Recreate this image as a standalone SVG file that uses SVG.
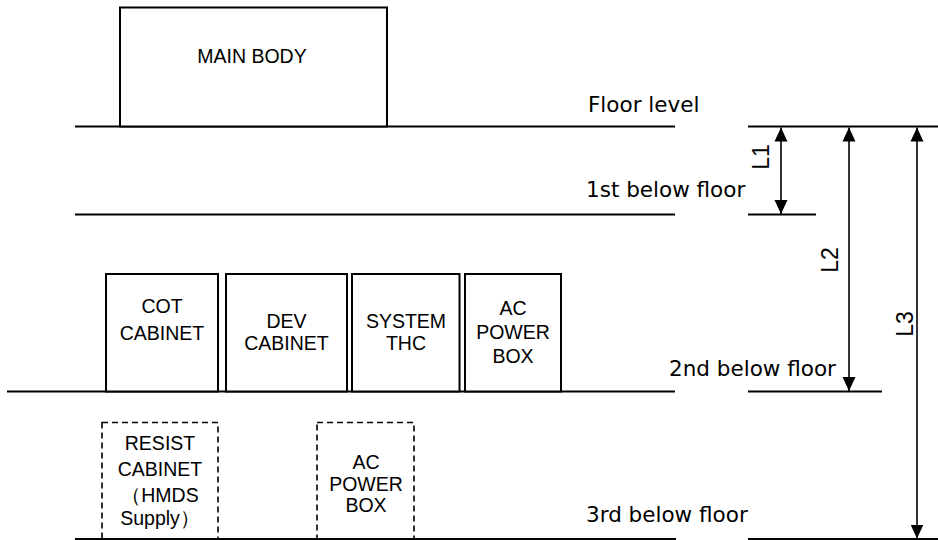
<svg xmlns="http://www.w3.org/2000/svg" width="938" height="540" viewBox="0 0 938 540">
<style>
.bx{fill:#fff;stroke:#000;stroke-width:2}
.dbx{fill:none;stroke:#000;stroke-width:1.6;stroke-dasharray:6 4}
.fl{stroke:#000;stroke-width:2}
.dim{stroke:#000;stroke-width:1.6}
.t{font-family:"Liberation Sans",Arial,sans-serif;font-size:19.5px;fill:#000;text-anchor:middle}
.lab{font-family:"DejaVu Sans","Noto Sans",sans-serif;font-size:21.5px;fill:#000}
.lt{font-family:"Liberation Sans",Arial,sans-serif;font-size:23px;fill:#000;text-anchor:middle}
</style>
<defs>
<marker id="ah" viewBox="0 0 14 14" refX="14" refY="7" markerWidth="14" markerHeight="14" markerUnits="userSpaceOnUse" orient="auto-start-reverse">
<path d="M0,0.5 L14,7 L0,13.5 Z" fill="#000"/>
</marker>
</defs>
<g id="floors">
<line class="fl" x1="75" y1="126.5" x2="675" y2="126.5"/>
<line class="fl" x1="748" y1="126.5" x2="938" y2="126.5"/>
<line class="fl" x1="75" y1="214.5" x2="675" y2="214.5"/>
<line class="fl" x1="748" y1="214.5" x2="816" y2="214.5"/>
<line class="fl" x1="7" y1="391.5" x2="675" y2="391.5"/>
<line class="fl" x1="748" y1="391.5" x2="882" y2="391.5"/>
<line class="fl" x1="75" y1="539" x2="676" y2="539"/>
<line class="fl" x1="748" y1="539" x2="938" y2="539"/>
<text class="lab" x="588" y="112">Floor level</text>
<text class="lab" x="586" y="197">1st below floor</text>
<text class="lab" x="669" y="376">2nd below floor</text>
<text class="lab" x="586" y="522">3rd below floor</text>
</g>
<g id="main-body">
<rect class="bx" x="120" y="7.5" width="267" height="119"/>
<text class="t" x="252" y="63">MAIN BODY</text>
</g>
<g id="cot-cabinet">
<rect class="bx" x="106" y="274" width="112" height="117.5"/>
<text class="t" x="162" y="313">COT</text>
<text class="t" x="162" y="340">CABINET</text>
</g>
<g id="dev-cabinet">
<rect class="bx" x="226" y="274" width="121" height="117.5"/>
<text class="t" x="286.5" y="328">DEV</text>
<text class="t" x="286.5" y="350">CABINET</text>
</g>
<g id="system-thc">
<rect class="bx" x="352" y="274" width="107.5" height="117.5"/>
<text class="t" x="406" y="328">SYSTEM</text>
<text class="t" x="406" y="350">THC</text>
</g>
<g id="ac-power-box-2">
<rect class="bx" x="465" y="274" width="96" height="117.5"/>
<text class="t" x="513" y="315">AC</text>
<text class="t" x="513" y="339">POWER</text>
<text class="t" x="513" y="363">BOX</text>
</g>
<g id="resist-cabinet">
<rect class="dbx" x="102" y="422.5" width="116" height="117"/>
<text class="t" x="160" y="450">RESIST</text>
<text class="t" x="160" y="476">CABINET</text>
<text class="t" x="160" y="502">（HMDS</text>
<text class="t" x="160" y="525">Supply）</text>
</g>
<g id="ac-power-box-3">
<rect class="dbx" x="317" y="422.5" width="97" height="117"/>
<text class="t" x="366" y="469">AC</text>
<text class="t" x="366" y="491">POWER</text>
<text class="t" x="366" y="512">BOX</text>
</g>
<g id="connectors">
<line class="dim" x1="781" y1="127.5" x2="781" y2="214" marker-start="url(#ah)" marker-end="url(#ah)"/>
<line class="dim" x1="849" y1="127.5" x2="849" y2="391" marker-start="url(#ah)" marker-end="url(#ah)"/>
<line class="dim" x1="917" y1="127.5" x2="917" y2="538.5" marker-start="url(#ah)" marker-end="url(#ah)"/>
<text class="lt" transform="translate(769 157) rotate(-90)">L1</text>
<text class="lt" transform="translate(838 260) rotate(-90)">L2</text>
<text class="lt" transform="translate(913 324) rotate(-90)">L3</text>
</g>
</svg>
